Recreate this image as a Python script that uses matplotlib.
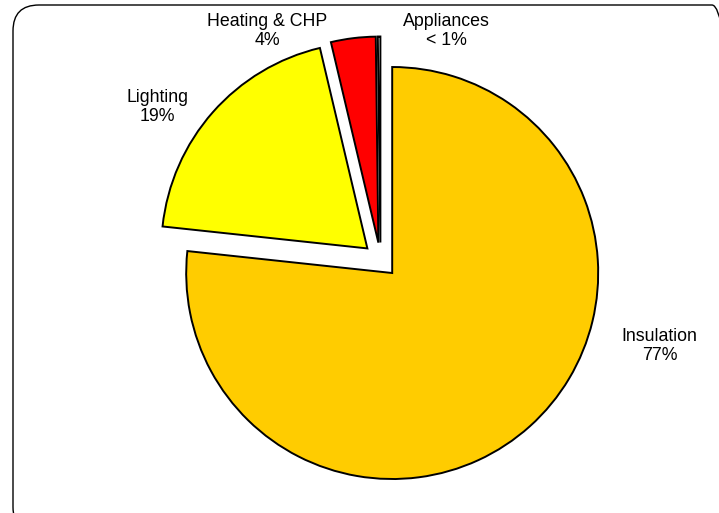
import matplotlib
matplotlib.use('Agg')
import matplotlib.pyplot as plt
from matplotlib.patches import FancyBboxPatch

plt.rcParams['font.family'] = ['Liberation Sans', 'DejaVu Sans']

# 데이터
categories = ['Insulation', 'Lighting', 'Heating & CHP', 'Appliances']
shares = [76.7, 19.6, 3.5, 0.2]
share_labels = ['77%', '19%', '4%', '< 1%']
colors = ['#FFCC00', '#FFFF00', '#FF0000', '#FFFFFF']

fig = plt.figure(figsize=(7.19, 5.13), dpi=100)
ax = fig.add_axes([0, 0, 1, 1])

# 파이 차트 (모든 조각을 약간씩 분리, explode 값은 데이터 단위)
ax.pie(shares, colors=colors, startangle=90, counterclock=False,
       explode=[17.5] * len(shares), center=(380.5, 253), radius=206,
       wedgeprops=dict(edgecolor='black', linewidth=1.4))

# 라벨 위치 (픽셀 좌표, 아래에서 위로)
label_pos = [(659.5, 167), (157.5, 406), (267.5, 482), (446, 482)]
for name, lab, (x, y) in zip(categories, share_labels, label_pos):
    ax.text(x, y, name + '\n' + lab, ha='center', va='center',
            fontsize=12.8, linespacing=1.2, color='black')

# 둥근 테두리
frame = FancyBboxPatch((13, -20), 725, 528,
                       boxstyle='round,pad=0,rounding_size=26',
                       facecolor='none', edgecolor='black', linewidth=1.0)
ax.add_patch(frame)

ax.set_xlim(0, 719)
ax.set_ylim(0, 513)
ax.set_aspect('equal')
ax.axis('off')

fig.savefig('out.png', dpi=100)
